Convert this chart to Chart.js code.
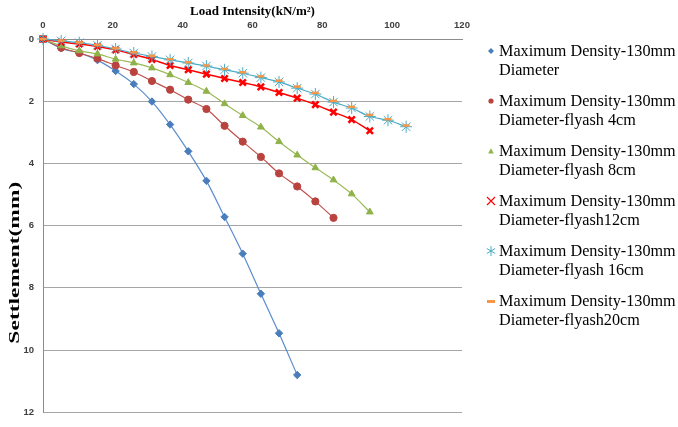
<!DOCTYPE html>
<html>
<head>
<meta charset="utf-8">
<script src="https://cdn.jsdelivr.net/npm/chart.js@4.4.1/dist/chart.umd.min.js"></script>
<style>
  html, body { margin: 0; padding: 0; background: #fff; }
  #wrap { position: relative; width: 678px; height: 427px; }
  #legend {
    position: absolute; left: 486px; top: 42px;
    font-family: "Liberation Serif", "Times New Roman", serif;
    font-size: 16.2px; line-height: 18.7px; color: #000;
  }
  .item { position: relative; padding-left: 13px; height: 50px; white-space: nowrap; }
  .item svg { position: absolute; left: 0; top: 4px; }
</style>
</head>
<body>
<div id="wrap">
  <canvas id="chart" width="678" height="427"></canvas>
  <div id="legend"></div>
</div>
<script>
// load intensity (kN/m²) at each reading
const loads = [0, 5.2, 10.4, 15.6, 20.8, 26, 31.2, 36.4, 41.6, 46.8, 52, 57.2, 62.4, 67.6, 72.8, 78, 83.2, 88.4, 93.6, 98.8, 104];

// settlement (mm)
const plain    = [0, 0.3, 0.45, 0.68, 1.03, 1.45, 2.01, 2.75, 3.61, 4.56, 5.72, 6.9, 8.19, 9.46, 10.8];
const flyash4  = [0, 0.28, 0.45, 0.63, 0.85, 1.06, 1.35, 1.63, 1.95, 2.25, 2.79, 3.3, 3.79, 4.32, 4.74, 5.22, 5.75];
const flyash8  = [0, 0.22, 0.38, 0.48, 0.65, 0.77, 0.93, 1.15, 1.4, 1.68, 2.08, 2.46, 2.83, 3.3, 3.73, 4.14, 4.53, 4.98, 5.56];
const flyash12 = [0, 0.1, 0.16, 0.24, 0.35, 0.5, 0.66, 0.85, 0.99, 1.13, 1.27, 1.4, 1.54, 1.72, 1.9, 2.11, 2.35, 2.59, 2.95];
const flyash16 = [0, 0.06, 0.12, 0.2, 0.32, 0.45, 0.56, 0.67, 0.77, 0.87, 0.99, 1.1, 1.24, 1.38, 1.58, 1.77, 2.03, 2.22, 2.49, 2.61, 2.82];
const flyash20 = [0, 0.05, 0.11, 0.19, 0.3, 0.43, 0.54, 0.65, 0.75, 0.85, 0.96, 1.07, 1.2, 1.34, 1.53, 1.73, 1.99, 2.18, 2.44, 2.58, 2.78];

const seriesNames = [
  ['Maximum Density-130mm', 'Diameter'],
  ['Maximum Density-130mm', 'Diameter-flyash 4cm'],
  ['Maximum Density-130mm', 'Diameter-flyash 8cm'],
  ['Maximum Density-130mm', 'Diameter-flyash12cm'],
  ['Maximum Density-130mm', 'Diameter-flyash 16cm'],
  ['Maximum Density-130mm', 'Diameter-flyash20cm']
];

const xTicks = [0, 20, 40, 60, 80, 100, 120];
const yTicks = [0, 2, 4, 6, 8, 10, 12];

function toPoints(values) {
  return values.map((v, i) => ({ x: loads[i], y: v }));
}

const styles = [
  { line: '#5a8ccf', point: '#4a7ebb', shape: 'rectRot', r: 3.7, bw: 1 },
  { line: '#c0504d', point: '#b9433f', shape: 'circle', r: 3.6, bw: 1 },
  { line: '#9bbb59', point: '#8fb24a', shape: 'triangle', r: 3.9, bw: 1 },
  { line: '#ff0000', point: '#ff0000', shape: 'crossRot', r: 4.5, bw: 2.5 },
  { line: '#4bacc6', point: '#4bacc6', shape: 'star', r: 6, bw: 1 },
  { line: '#f79646', point: '#f79646', shape: 'line', r: 3.5, bw: 2.5 }
];
const allValues = [plain, flyash4, flyash8, flyash12, flyash16, flyash20];

const datasets = allValues.map((vals, i) => ({
  label: seriesNames[i].join(' '),
  data: toPoints(vals),
  borderColor: styles[i].line,
  borderWidth: i === 3 ? 1.5 : 1.2,
  backgroundColor: styles[i].point,
  pointBackgroundColor: styles[i].point,
  pointBorderColor: styles[i].point,
  pointBorderWidth: styles[i].bw,
  pointStyle: styles[i].shape,
  pointRadius: styles[i].r,
  showLine: i !== 5,
  tension: 0.3,
  clip: false,
  order: 5 - i
}));

// y title is drawn stretched like the original
const yTitlePlugin = {
  id: 'yTitle',
  afterDraw(chart) {
    const c = chart.ctx;
    const area = chart.chartArea;
    c.save();
    c.font = 'bold 14px "Liberation Serif", serif';
    c.fillStyle = '#000';
    c.textAlign = 'center';
    c.textBaseline = 'middle';
    c.translate(15, (area.top + area.bottom) / 2 + 37);
    c.rotate(-Math.PI / 2);
    const w = c.measureText('Settlement(mm)').width;
    c.scale(162 / w, 1);
    c.fillText('Settlement(mm)', 0, 0);
    c.restore();
  }
};

new Chart(document.getElementById('chart'), {
  type: 'scatter',
  data: { datasets },
  options: {
    responsive: false,
    animation: false,
    layout: { padding: { top: 0, right: 216, bottom: 8, left: 0 } },
    plugins: {
      legend: { display: false },
      tooltip: { enabled: false }
    },
    scales: {
      x: {
        type: 'linear',
        position: 'top',
        min: 0,
        max: 120,
        afterBuildTicks: s => { s.ticks = xTicks.map(v => ({ value: v })); },
        afterFit: s => { s.height = 39; },
        grid: { display: false, drawTicks: false },
        border: { display: true, color: '#8c8c8c', width: 1 },
        ticks: {
          color: '#404040',
          padding: 8,
          font: { family: '"Liberation Sans", Arial, sans-serif', size: 9.5, weight: 'bold' }
        },
        title: {
          display: true,
          text: 'Load Intensity(kN/m²)',
          color: '#000',
          padding: { top: 4, bottom: 0 },
          font: { family: '"Liberation Serif", serif', size: 13, weight: 'bold' }
        }
      },
      y: {
        type: 'linear',
        reverse: true,
        min: 0,
        max: 12,
        afterBuildTicks: s => { s.ticks = yTicks.map(v => ({ value: v })); },
        afterFit: s => { s.width = 43; },
        grid: { color: '#a6a6a6', lineWidth: 1, drawTicks: false },
        border: { display: true, color: '#8c8c8c', width: 1 },
        ticks: {
          color: '#404040',
          padding: 9,
          font: { family: '"Liberation Sans", Arial, sans-serif', size: 9.5, weight: 'bold' }
        }
      }
    }
  },
  plugins: [yTitlePlugin]
});

// legend
const markerSvg = [
  '<svg width="10" height="10"><polygon points="5,2 8,5 5,8 2,5" fill="#4a7ebb"/></svg>',
  '<svg width="10" height="10"><circle cx="5" cy="5" r="2.6" fill="#b9433f"/></svg>',
  '<svg width="10" height="10"><polygon points="5,2.2 7.8,7.4 2.2,7.4" fill="#8fb24a"/></svg>',
  '<svg width="10" height="10"><path d="M1,1 L9,9 M9,1 L1,9" stroke="#ff0000" stroke-width="1.1"/></svg>',
  '<svg width="10" height="10"><path d="M5,0 L5,10 M0.8,2.5 L9.2,7.5 M9.2,2.5 L0.8,7.5" stroke="#4bacc6" stroke-width="1"/></svg>',
  '<svg width="10" height="10"><rect x="1" y="4" width="8" height="3" fill="#f79646"/></svg>'
];
const legendEl = document.getElementById('legend');
seriesNames.forEach((lines, i) => {
  const d = document.createElement('div');
  d.className = 'item';
  d.innerHTML = markerSvg[i] + lines.join('<br>');
  legendEl.appendChild(d);
});
</script>
</body>
</html>
